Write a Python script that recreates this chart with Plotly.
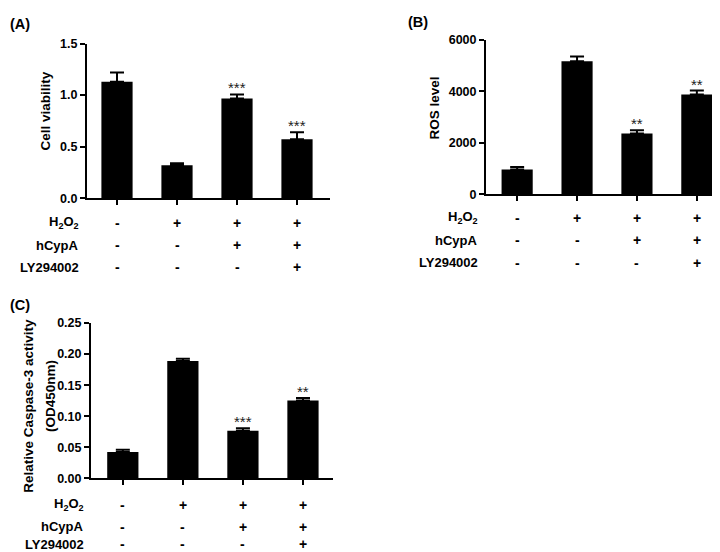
import plotly.graph_objects as go

W, H = 720, 552

groups = [0, 1, 2, 3]
row_names = ["H<sub>2</sub>O<sub>2</sub>", "hCypA", "LY294002"]
h2o2 = ["-", "+", "+", "+"]
hcypa = ["-", "-", "+", "+"]
ly294002 = ["-", "-", "-", "+"]

# Panel A: cell viability
via_mean = [1.13, 0.32, 0.966, 0.572]
via_err = [0.09, 0.02, 0.04, 0.068]
via_sig = ["", "", "***", "***"]

# Panel B: ROS level
ros_mean = [960, 5166, 2362, 3878]
ros_err = [100, 190, 126, 151]
ros_sig = ["", "", "**", "**"]

# Panel C: caspase-3 activity
casp_mean = [0.0425, 0.189, 0.0768, 0.1255]
casp_err = [0.0035, 0.0035, 0.004, 0.0037]
casp_sig = ["", "", "***", "**"]

FONT = "Liberation Sans, Arial, sans-serif"

def px(x):
    return x / W

def py(y):
    return 1 - y / H

panels = [
    dict(m=via_mean, e=via_err, s=via_sig, xd=(79, 322), yd=(188, 29.3),
         xr=(-0.5, 3.55), yr=(0, 1.5), dt=0.5, fmt=".1f", tag="(A)", tagpos=(0, 9),
         rows_y=(213, 236, 259), lab_x=73),
    dict(m=ros_mean, e=ros_err, s=ros_sig, xd=(478, 720), yd=(184, 25.5),
         xr=(-0.52, 3.52), yr=(0, 6000), dt=2000, fmt="d", tag="(B)", tagpos=(398, 7),
         rows_y=(208, 231, 254), lab_x=472),
    dict(m=casp_mean, e=casp_err, s=casp_sig, xd=(83, 325), yd=(475.5, 316),
         xr=(-0.53, 3.5), yr=(0, 0.25), dt=0.05, fmt=".2f", tag="(C)", tagpos=(0, 298),
         rows_y=(502.7, 525, 543), lab_x=78),
]

fig = go.Figure()
annotations = []
layout = {}
for i, p in enumerate(panels, start=1):
    xa = "x" if i == 1 else f"x{i}"
    ya = "y" if i == 1 else f"y{i}"
    fig.add_trace(go.Bar(
        x=groups, y=p["m"], width=0.52, marker=dict(color="black", line=dict(width=0)),
        error_y=dict(type="data", array=p["e"], arrayminus=[0] * 4, symmetric=False,
                     thickness=2, width=7, color="black"),
        xaxis=xa, yaxis=ya, showlegend=False,
    ))
    axkw = dict(showline=True, linewidth=2, linecolor="black", ticks="outside",
                ticklen=5, tickwidth=2, tickcolor="black", showgrid=False, zeroline=False)
    layout["xaxis" if i == 1 else f"xaxis{i}"] = dict(
        domain=[px(p["xd"][0]), px(p["xd"][1])], range=list(p["xr"]),
        anchor=ya, tickvals=groups, showticklabels=False, fixedrange=True, **axkw)
    layout["yaxis" if i == 1 else f"yaxis{i}"] = dict(
        domain=[py(p["yd"][0]), py(p["yd"][1])], range=list(p["yr"]), anchor=xa,
        dtick=p["dt"], tick0=0, tickformat=p["fmt"], fixedrange=True,
        tickfont=dict(family=FONT, size=12.5, color="black", weight="bold"), **axkw)
    for g, m, e, s in zip(groups, p["m"], p["e"], p["s"]):
        if s:
            annotations.append(dict(x=g, y=m + e, xref=xa, yref=ya, text=s, showarrow=False,
                                    xanchor="center", yanchor="bottom", yshift=-4,
                                    font=dict(family=FONT, size=15, color="#222")))
    annotations.append(dict(x=px(p["tagpos"][0]), y=py(p["tagpos"][1]), xref="paper", yref="paper",
                            text=p["tag"], showarrow=False, xanchor="left", yanchor="middle",
                            font=dict(family=FONT, size=14.5, color="black", weight="bold")))
    for rname, vals, ry in zip(row_names, [h2o2, hcypa, ly294002], p["rows_y"]):
        annotations.append(dict(x=px(p["lab_x"]), y=py(ry), xref="paper", yref="paper",
                                text=rname, showarrow=False, xanchor="right", yanchor="middle",
                                font=dict(family=FONT, size=13, color="black", weight="bold")))
        for g, v in zip(groups, vals):
            annotations.append(dict(x=g, y=py(ry), xref=xa, yref="paper", text=v,
                                    showarrow=False, xanchor="center", yanchor="middle",
                                    font=dict(family=FONT, size=14, color="black", weight="bold")))

title_font = dict(family=FONT, size=13.5, color="black", weight="bold")
titles = [
    ("Cell viability", 37, 99),
    ("ROS level", 427, 96),
    ("Relative Caspase-3 activity", 21, 401),
    ("(OD450nm)", 42, 391),
]
for txt, tx, ty in titles:
    annotations.append(dict(x=px(tx), y=py(ty), xref="paper", yref="paper", text=txt,
                            textangle=-90, showarrow=False, xanchor="center", yanchor="middle",
                            font=title_font))

fig.update_layout(width=W, height=H, margin=dict(l=0, r=0, t=0, b=0),
                  paper_bgcolor="white", plot_bgcolor="white",
                  annotations=annotations, **layout)

fig.write_html("out.html")
